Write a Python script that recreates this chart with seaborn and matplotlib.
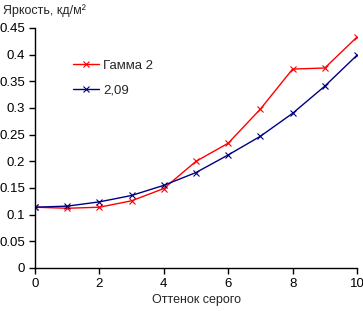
import numpy as np
import pandas as pd
import matplotlib
matplotlib.use('Agg')
import matplotlib.pyplot as plt
import seaborn as sns

shades = [0, 1, 2, 3, 4, 5, 6, 7, 8, 9, 10]
gamma2 = [0.114, 0.112, 0.114, 0.126, 0.149, 0.200, 0.234, 0.298, 0.373, 0.375, 0.433]
g209 = [0.114, 0.116, 0.124, 0.136, 0.155, 0.179, 0.212, 0.247, 0.290, 0.341, 0.399]
y_ticks = [0, 0.05, 0.1, 0.15, 0.2, 0.25, 0.3, 0.35, 0.4, 0.45]
x_ticks = [0, 2, 4, 6, 8, 10]

sns.set_style('ticks')
plt.rcParams['font.family'] = ['Liberation Sans', 'DejaVu Sans']

df = pd.DataFrame({'x': shades, 'Гамма 2': gamma2, '2,09': g209})

fig = plt.figure(figsize=(3.63, 3.11), dpi=100)
ax = fig.add_axes([35 / 363, 43 / 311, 322 / 363, 240 / 311])

sns.lineplot(data=df, x='x', y='Гамма 2', ax=ax, color='#ff0000', lw=1,
             marker='x', ms=4, mew=0.8, mec='#ff0000', label='Гамма 2')
sns.lineplot(data=df, x='x', y='2,09', ax=ax, color='#000080', lw=1,
             marker='x', ms=4, mew=0.8, mec='#000080', label='2,09')

ax.set_xlim(0, 10)
ax.set_ylim(0, 0.45)
ax.set_xticks(x_ticks)
ax.set_yticks(y_ticks)
ax.set_yticklabels([f'{v:g}' for v in y_ticks])
ax.tick_params(labelsize=9.5, length=4, width=1, direction='out', colors='black', pad=3)
for s in ['top', 'right']:
    ax.spines[s].set_visible(False)
for s in ['left', 'bottom']:
    ax.spines[s].set_linewidth(1)
    ax.spines[s].set_color('black')

ax.set_xlabel('Оттенок серого', fontsize=9, labelpad=3)
ax.set_ylabel('')
fig.text(3 / 363, 1 - 11 / 311, 'Яркость, кд/м²', fontsize=9, va='center', ha='left')

ax.legend(loc='upper left', bbox_to_anchor=(38 / 322, 0.868), frameon=False, fontsize=9.5,
          handlelength=2.0, handletextpad=0.3, labelspacing=0.95,
          borderpad=0, borderaxespad=0)

fig.savefig('out.png', dpi=100)
